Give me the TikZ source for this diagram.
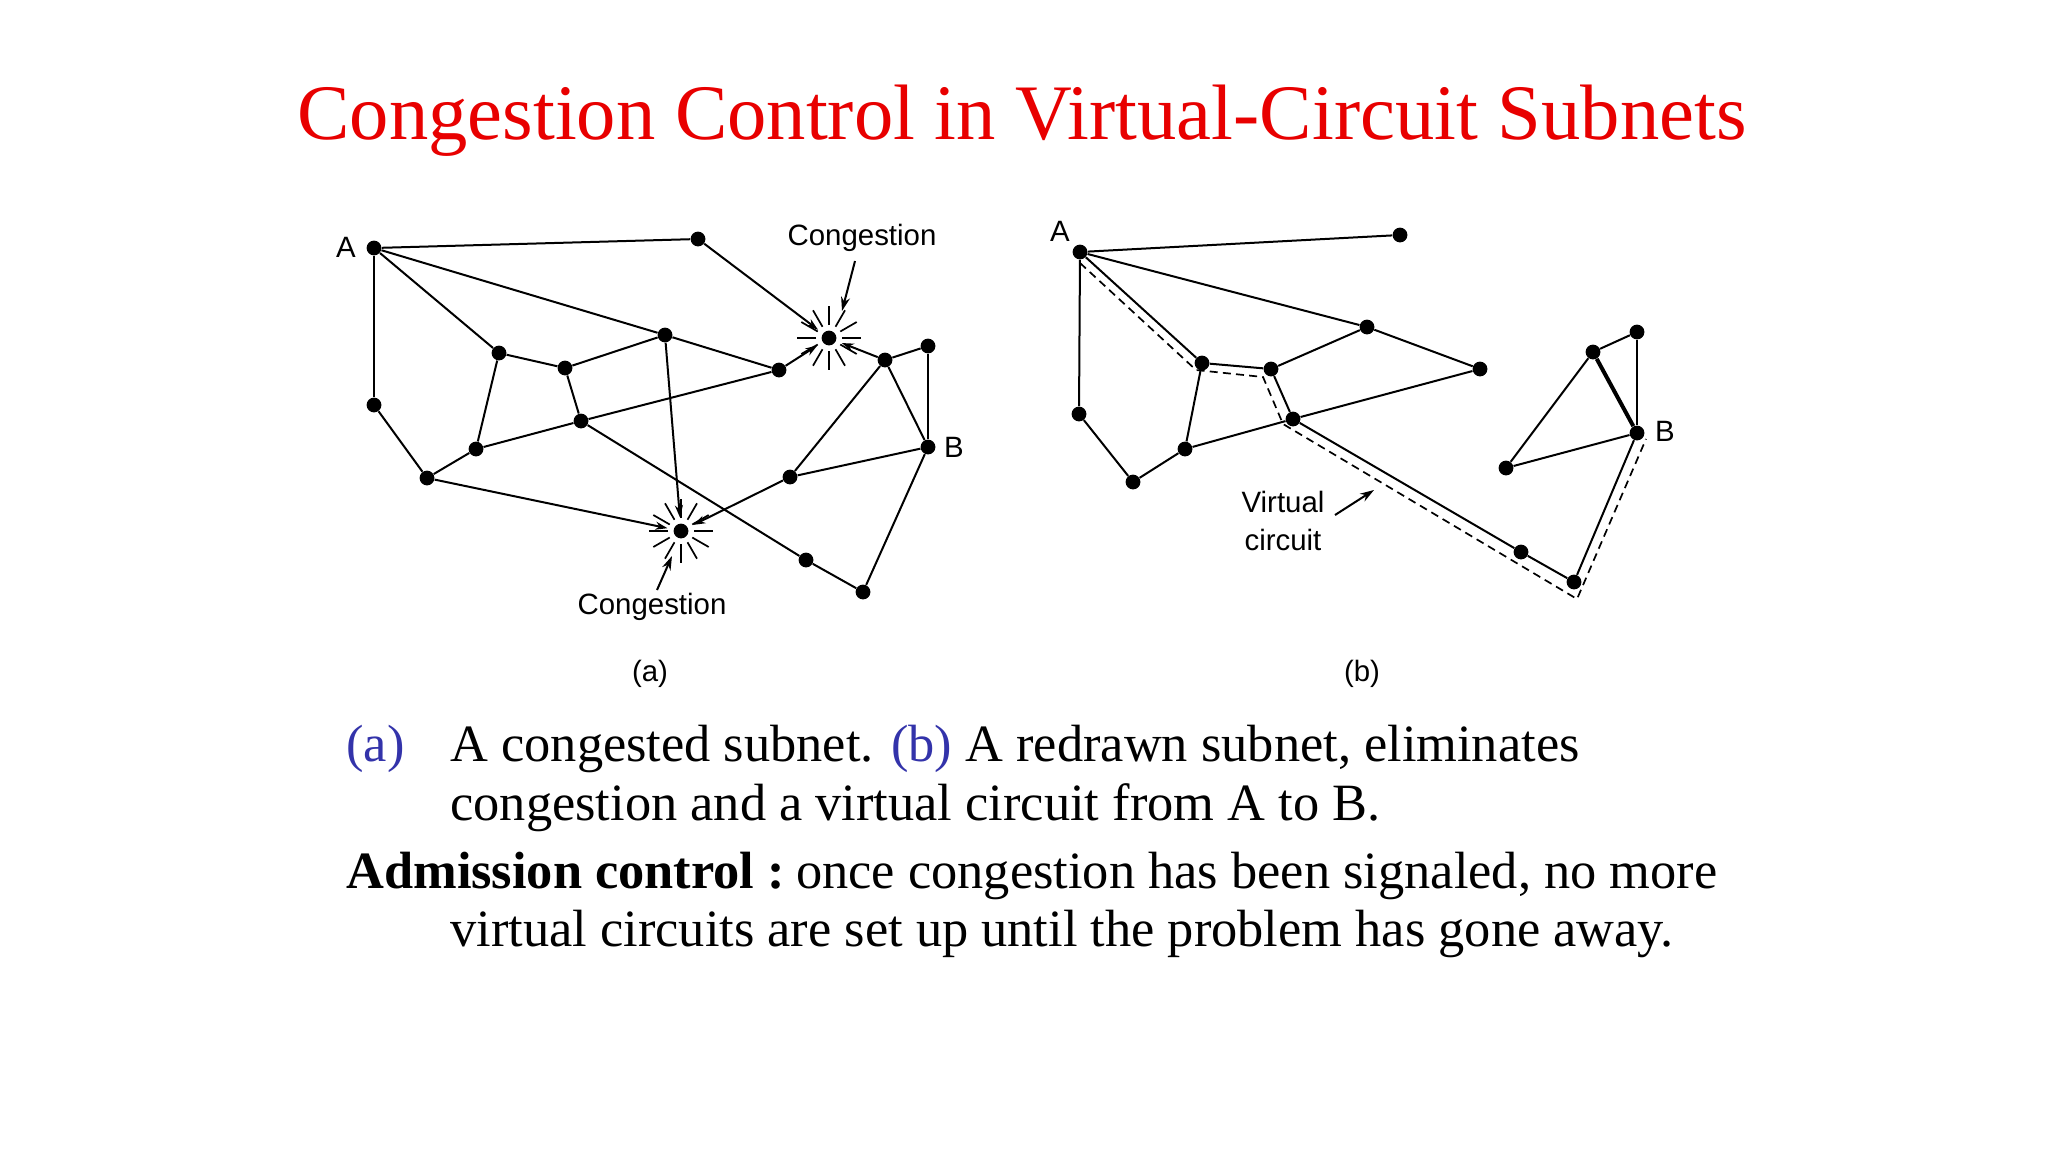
\documentclass[tikz,border=0pt]{standalone}
\usepackage{fontspec}
\setmainfont{Liberation Serif}
\newfontfamily\helv{Liberation Sans}
\usetikzlibrary{arrows.meta}
\definecolor{titlered}{RGB}{232,0,0}
\definecolor{capblue}{RGB}{51,51,170}
\begin{document}
\begin{tikzpicture}[x=0.5pt,y=-0.5pt,
  dot/.style={circle,fill=black,inner sep=0pt,minimum size=7.4pt},
  edge/.style={line width=1pt},
  thickedge/.style={line width=2pt},
  toC/.style={line width=1pt,-{Stealth[length=6pt,width=4pt]},shorten >=3pt},
  ray/.style={line width=0.85pt},
  lbl/.style={font=\helv\fontsize{14.7}{17}\selectfont,inner sep=0pt},
  captxt/.style={anchor=base west,inner sep=0pt,font=\fontsize{26.2}{29}\selectfont},
  vc/.style={line width=0.85pt,dash pattern=on 4pt off 2.6pt}]
\useasboundingbox[fill=white] (0,0) rectangle (2048,1152);

% title
\node[anchor=base,inner sep=0pt,text=titlered,font=\fontsize{39.3}{44}\selectfont] (title) at (1022,139) {Congestion Control in Virtual-Circuit Subnets};

% ---------- (a) ----------
\node[dot] (aA) at (374,248) {};
\node[dot] (aT) at (698,239) {};
\node[dot] (aC1) at (829,338) {};
\node[dot] (a1) at (499,353) {};
\node[dot] (a2) at (565,368) {};
\node[dot] (a3) at (665,335) {};
\node[dot] (a4) at (779,370) {};
\node[dot] (a5) at (885,360) {};
\node[dot] (a6) at (928,346) {};
\node[dot] (aB) at (928,447) {};
\node[dot] (a7) at (374,405) {};
\node[dot] (a8) at (581,421) {};
\node[dot] (a9) at (476,449) {};
\node[dot] (a10) at (427,478) {};
\node[dot] (a11) at (790,477) {};
\node[dot] (aC2) at (681,531) {};
\node[dot] (a12) at (806,560) {};
\node[dot] (a13) at (863,592) {};

\draw[edge] (aA) -- (aT);
\draw[edge] (aA) -- (a7);
\draw[edge] (aA) -- (a1);
\draw[edge] (aA) -- (a3);
\draw[edge] (a3) -- (a4);
\draw[edge] (a1) -- (a2);
\draw[edge] (a2) -- (a3);
\draw[edge] (a2) -- (a8);
\draw[edge] (a1) -- (a9);
\draw[edge] (a9) -- (a8);
\draw[edge] (a8) -- (a4);
\draw[edge] (a7) -- (a10);
\draw[edge] (a10) -- (a9);
\draw[edge] (a8) -- (a12);
\draw[edge] (a12) -- (a13);
\draw[edge] (a13) -- (aB);
\draw[edge] (a11) -- (aB);
\draw[edge] (a11) -- (a5);
\draw[edge] (a5) -- (a6);
\draw[edge] (a6) -- (aB);
\draw[edge] (a5) -- (aB);
% arrows into congested nodes
\draw[toC] (aT) -- (aC1);
\draw[toC] (a4) -- (aC1);
\draw[toC] (a5) -- (aC1);
\draw[toC] (a10) -- (aC2);
\draw[toC] (a3) -- (aC2);
\draw[toC] (a11) -- (aC2);
% bursts
\foreach \ang in {0,30,...,330} {
  \draw[ray] (aC1) ++(\ang:13) -- ++(\ang:19);
  \draw[ray] (aC2) ++(\ang:13) -- ++(\ang:19);
}
\node[lbl] (aAl) at (346,247) {A};
\node[lbl] (aBl) at (954,447) {B};
\node[lbl] (cg1) at (862,238) {Congestion};
\node[lbl] (cg2) at (652,607) {Congestion};
\coordinate (cg1t) at (855,261);
\coordinate (cg1h) at (842,311);
\coordinate (cg2t) at (657,590);
\coordinate (cg2h) at (672,556);
\draw[edge,-{Stealth[length=7pt,width=4.5pt]}] (cg1t) -- (cg1h);
\draw[edge,-{Stealth[length=7pt,width=4.5pt]}] (cg2t) -- (cg2h);
\node[lbl] (capa) at (650,674) {(a)};

% ---------- (b) ----------
\node[dot] (bA) at (1080,252) {};
\node[dot] (bT) at (1400,235) {};
\node[dot] (b1) at (1079,414) {};
\node[dot] (b2) at (1133,482) {};
\node[dot] (b3) at (1185,449) {};
\node[dot] (b4) at (1202,363) {};
\node[dot] (b5) at (1271,369) {};
\node[dot] (b6) at (1293,419) {};
\node[dot] (b7) at (1367,327) {};
\node[dot] (b8) at (1480,369) {};
\node[dot] (b9) at (1521,552) {};
\node[dot] (b10) at (1574,582) {};
\node[dot] (bB) at (1637,433) {};
\node[dot] (b11) at (1593,352) {};
\node[dot] (b12) at (1637,332) {};
\node[dot] (b13) at (1506,468) {};

\draw[edge] (bA) -- (bT);
\draw[edge] (bA) -- (b7);
\draw[edge] (bA) -- (b1);
\draw[edge] (bA) -- (b4);
\draw[edge] (b1) -- (b2);
\draw[edge] (b2) -- (b3);
\draw[edge] (b3) -- (b4);
\draw[edge] (b4) -- (b5);
\draw[edge] (b5) -- (b7);
\draw[edge] (b7) -- (b8);
\draw[edge] (b5) -- (b6);
\draw[edge] (b3) -- (b6);
\draw[edge] (b6) -- (b8);
\draw[edge] (b6) -- (b9);
\draw[edge] (b9) -- (b10);
\draw[edge] (b10) -- (bB);
\draw[thickedge] (bB) -- (b11);
\draw[edge] (b11) -- (b12);
\draw[edge] (b12) -- (bB);
\draw[edge] (b11) -- (b13);
\draw[edge] (b13) -- (bB);

% virtual circuit (dashed)
\coordinate (v0) at (1080,263);
\coordinate (v1) at (1196,370);
\coordinate (v2) at (1263,377);
\coordinate (v3) at (1283,424);
\coordinate (v4) at (1577,599);
\coordinate (v5) at (1646,439);
\draw[vc] (v0) -- (v1) -- (v2) -- (v3) -- (v4) -- (v5);

\node[lbl] (bAl) at (1060,231) {A};
\node[lbl] (bBl) at (1665,431) {B};
\node[lbl,align=center] (vcl) at (1283,521) {Virtual\\[2pt]circuit};
\coordinate (vct) at (1335,515);
\coordinate (vch) at (1374,490);
\draw[edge,-{Stealth[length=7pt,width=4.5pt]}] (vct) -- (vch);
\node[lbl] (capb) at (1362,674) {(b)};

% ---------- caption ----------
\node[captxt,text=capblue] (c0) at (346,761) {(a)};
\node[captxt] (c1) at (450,761) {A congested subnet. \textcolor{capblue}{(b)} A redrawn subnet, eliminates};
\node[captxt] (c2) at (450,820) {congestion and a virtual circuit from A to B.};
\node[captxt] (c3) at (346,888) {\textbf{Admission control :}\hspace{-0.12em} once congestion has been signaled, no more};
\node[captxt] (c4) at (450,946) {virtual circuits are set up until the problem has gone away.};
\end{tikzpicture}
\end{document}
